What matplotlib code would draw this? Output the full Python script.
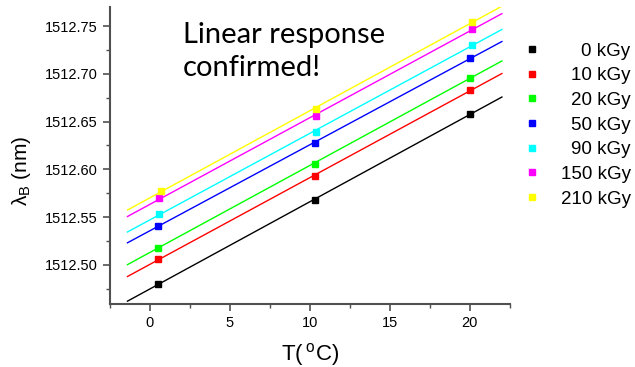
import numpy as np
import matplotlib
matplotlib.use("Agg")
import matplotlib.pyplot as plt

plt.rcParams['font.family'] = ['Liberation Sans', 'DejaVu Sans']

# temperature set points (deg C) and Bragg wavelength per dose
doses = ['0 kGy', '10 kGy', '20 kGy', '50 kGy', '90 kGy', '150 kGy', '210 kGy']
colors = ['black', 'red', '#00ff00', 'blue', 'cyan', 'magenta', 'yellow']
temps = [
    [0.5, 10.3, 20.0],
    [0.5, 10.3, 20.0],
    [0.5, 10.3, 20.0],
    [0.5, 10.3, 20.0],
    [0.6, 10.4, 20.1],
    [0.6, 10.4, 20.1],
    [0.7, 10.4, 20.1],
]
wl = [
    [1512.4794, 1512.5683, 1512.6576],
    [1512.5055, 1512.5928, 1512.6827],
    [1512.5178, 1512.6060, 1512.6956],
    [1512.5405, 1512.6276, 1512.7162],
    [1512.5533, 1512.6395, 1512.7301],
    [1512.5694, 1512.6562, 1512.7465],
    [1512.5772, 1512.6635, 1512.7542],
]

fig = plt.figure(figsize=(6.35, 3.67), dpi=100)
ax = fig.add_axes([0.173, 0.172, 0.63, 0.809])

xfit = np.array([-1.4, 22.0])
for d, c, t, w in zip(doses, colors, temps, wl):
    p = np.polyfit(t, w, 1)
    ax.plot(xfit, np.polyval(p, xfit), color=c, lw=1.0)
    ax.plot(t, w, ls='none', marker='s', ms=5, color=c, label=d)

ax.set_xlim(-2.5, 22.5)
ax.set_ylim(1512.459, 1512.770)
ax.set_xticks([0, 5, 10, 15, 20])
ax.set_xticks(np.arange(-2.5, 22.6, 2.5), minor=True)
ax.set_yticks([1512.50, 1512.55, 1512.60, 1512.65, 1512.70, 1512.75])
ax.set_yticks(np.arange(1512.475, 1512.77, 0.025), minor=True)
ax.yaxis.set_major_formatter(plt.FormatStrFormatter('%.2f'))

for s in ['top', 'right']:
    ax.spines[s].set_visible(False)
for s in ['left', 'bottom']:
    ax.spines[s].set_color('#505050')
    ax.spines[s].set_linewidth(1.5)
ax.tick_params(which='major', length=5, width=1.2, color='#505050', labelsize=10.5)
ax.tick_params(which='minor', length=3, width=1.0, color='#505050')

ax.set_xlabel('T($\\mathregular{\\,^{o}}$C)', fontsize=16, labelpad=8)
ax.set_ylabel('$\\mathregular{\\lambda_B}$ (nm)', fontsize=15)
ax.yaxis.set_label_coords(-0.193, 0.448)

ax.text(0.182, 0.949, 'Linear response\nconfirmed!', transform=ax.transAxes,
        family=['Lato', 'DejaVu Sans'], fontsize=21, va='top', ha='left',
        linespacing=1.35)

leg = ax.legend(loc='upper left', bbox_to_anchor=(1.026, 0.905), frameon=False,
                fontsize=13.5, handlelength=0.5, handletextpad=1.25,
                labelspacing=0.4, markerscale=0.85, borderaxespad=0)

# right-align the legend labels against the widest one
fig.canvas.draw()
renderer = fig.canvas.get_renderer()
widths = [t.get_window_extent(renderer).width for t in leg.get_texts()]
for t, w in zip(leg.get_texts(), widths):
    t.set_position((max(widths) - w, 0))

fig.savefig('out.png', dpi=100)
